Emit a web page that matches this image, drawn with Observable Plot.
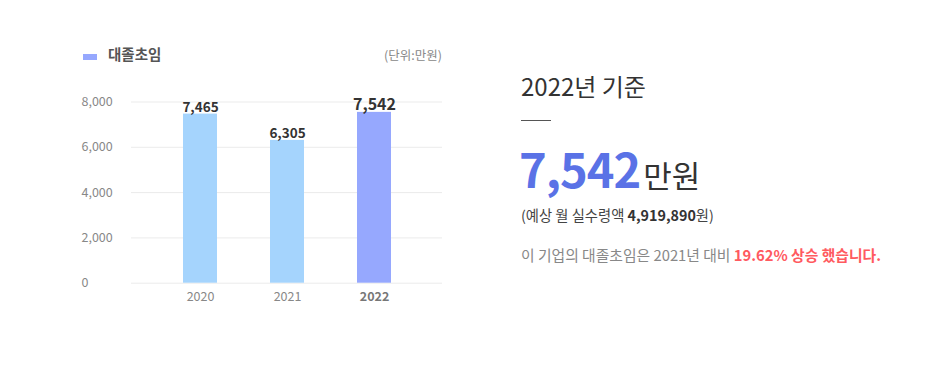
<!DOCTYPE html>
<html>
<head>
<meta charset="utf-8">
<script src="https://cdn.jsdelivr.net/npm/d3@7"></script>
<script src="https://cdn.jsdelivr.net/npm/@observablehq/plot@0.6"></script>
<style>
  html, body { margin: 0; padding: 0; background: #fff; }
  body { width: 950px; height: 366px; position: relative; overflow: hidden;
         font-family: "Noto Sans CJK KR", "Noto Sans", sans-serif; }
  .abs { position: absolute; white-space: nowrap; }
  #chart { position: absolute; left: 0; top: 0; }
  .legend-sw { position: absolute; left: 83px; top: 54px; width: 14px; height: 6px; background: #96a8fe; }
  .legend-tx { left: 108px; top: 43px; font-size: 14.5px; font-weight: 700; color: #555; }
  .unit { left: 384px; top: 45px; font-size: 12.5px; color: #888; }
  .base { left: 521px; top: 68px; font-size: 24px; color: #333; font-weight: 400; }
  .rule { position: absolute; left: 521px; top: 120px; width: 30px; height: 1px; background: #555; }
  .big { left: 519px; top: 133px; font-size: 47px; font-weight: 700; color: #5a72e6; letter-spacing: -1px; }
  .big span { font-size: 31px; font-weight: 400; color: #333; letter-spacing: 0; margin-left: 3px; }
  .sub { left: 521px; top: 204px; font-size: 14.3px; color: #444; }
  .sub b { font-weight: 700; color: #333; }
  .cmp { left: 521px; top: 244px; font-size: 14.8px; color: #888; }
  .cmp b { font-weight: 700; color: #ff5a5f; }
</style>
</head>
<body>
<div id="chart"></div>
<div class="legend-sw"></div>
<div class="abs legend-tx">대졸초임</div>
<div class="abs unit">(단위:만원)</div>
<div class="abs base">2022년 기준</div>
<div class="rule"></div>
<div class="abs big">7,542<span>만원</span></div>
<div class="abs sub">(예상 월 실수령액 <b>4,919,890</b>원)</div>
<div class="abs cmp">이 기업의 대졸초임은 2021년 대비 <b>19.62% 상승 했습니다.</b></div>
<script>
const years = ["2020", "2021", "2022"];
const salaries = [7465, 6305, 7542];
const yTicks = [0, 2000, 4000, 6000, 8000];
const highlightYear = "2022";

const data = years.map((y, i) => ({year: y, value: salaries[i], hl: y === highlightYear}));
const normal = data.filter(d => !d.hl);
const hi = data.filter(d => d.hl);
const fmt = d3.format(",");

const chart = Plot.plot({
  width: 470,
  height: 320,
  marginLeft: 131,
  marginRight: 28,
  marginTop: 101.5,
  marginBottom: 37.3,
  style: {fontFamily: '"Noto Sans CJK KR", "Noto Sans", sans-serif', background: "transparent"},
  x: {domain: years, paddingInner: 0.61, paddingOuter: 0.59, axis: null},
  y: {domain: [0, 8000], axis: null},
  marks: [
    Plot.gridY(yTicks, {stroke: "#ebebeb", strokeOpacity: 1, strokeWidth: 1}),
    Plot.axisY(yTicks, {tickSize: 0, textAnchor: "start", dx: -41, fill: "#888", fontSize: 12.5,
      label: null, tickFormat: d => fmt(d)}),
    Plot.barY(data, {x: "year", y: "value", fill: d => d.hl ? "#96a8fe" : "#a5d4fd"}),
    Plot.text(normal, {x: "year", y: "value", text: d => fmt(d.value),
      lineAnchor: "bottom", dy: -2, fill: "#333", fontSize: 13.5, fontWeight: 600}),
    Plot.text(hi, {x: "year", y: "value", text: d => fmt(d.value),
      lineAnchor: "bottom", dy: -2, fill: "#333", fontSize: 16, fontWeight: 700}),
    Plot.text(normal, {x: "year", y: () => 0, text: "year", dy: 14,
      fill: "#888", fontSize: 12.5}),
    Plot.text(hi, {x: "year", y: () => 0, text: "year", dy: 14,
      fill: "#777", fontSize: 12.5, fontWeight: 700})
  ]
});
document.getElementById("chart").appendChild(chart);
</script>
</body>
</html>
